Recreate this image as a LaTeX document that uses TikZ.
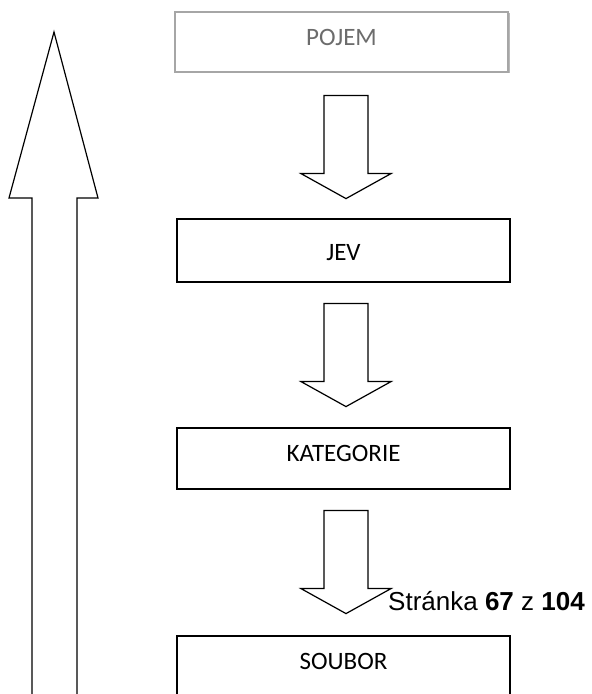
\documentclass[tikz,border=0pt]{standalone}
\usepackage{fontspec}
\usepackage{xcolor}
\usetikzlibrary{shadows}
\newfontfamily\boxfont{Carlito}
\newfontfamily\pagefont{Liberation Sans}

\begin{document}
\begin{tikzpicture}[
    x=1pt, y=1pt,
    level/.style={rectangle, draw, fill=white, line width=1.2pt, minimum width=333pt, inner xsep=0pt, inner ysep=0pt, font=\boxfont\fontsize{25}{30}\selectfont, text height=34pt, text depth=27pt},
    toplevel/.style={level, draw=gray!70, text=gray!85!black, drop shadow={shadow xshift=1.5pt, shadow yshift=-1.5pt, fill=gray!55, opacity=1}},
    pagenote/.style={font=\pagefont\fontsize{26}{30}\selectfont, inner sep=0pt},
    blockdown/.pic={
        \draw[line width=1.2pt, fill=white] (-22,0) -- (22,0) -- (22,-78) -- (45,-78) -- (0,-103) -- (-45,-78) -- (-22,-78) -- cycle;
    }
]
\useasboundingbox (0,0) rectangle (592,694);
\clip (0,0) rectangle (592,694);

% Levels
\node[toplevel, text height=34pt, text depth=26pt] (pojem) at (341.5,652) {POJEM};
\node[level, text height=42pt, text depth=21pt] (jev) at (343.5,443.5) {JEV};
\node[level] (kategorie) at (343.5,235.5) {KATEGORIE};
\node[level, text height=34pt, text depth=50pt] (soubor) at (343.5,16) {SOUBOR};

% Downward block arrows
\pic at ([xshift=4.5pt, yshift=-23pt]pojem.south) {blockdown};
\pic at ([xshift=2.5pt, yshift=-21pt]jev.south) {blockdown};
\pic at ([xshift=2.5pt, yshift=-21pt]kategorie.south) {blockdown};

% Upward block arrow
\draw[line width=1.2pt] (32,-5) -- (32,496) -- (9,496) -- (54,662) -- (98,496) -- (77,496) -- (77,-5);

% Page number
\node[pagenote, anchor=base west] (strana) at (388,83) {Stránka \textbf{67} z \textbf{104}};

\end{tikzpicture}
\end{document}
